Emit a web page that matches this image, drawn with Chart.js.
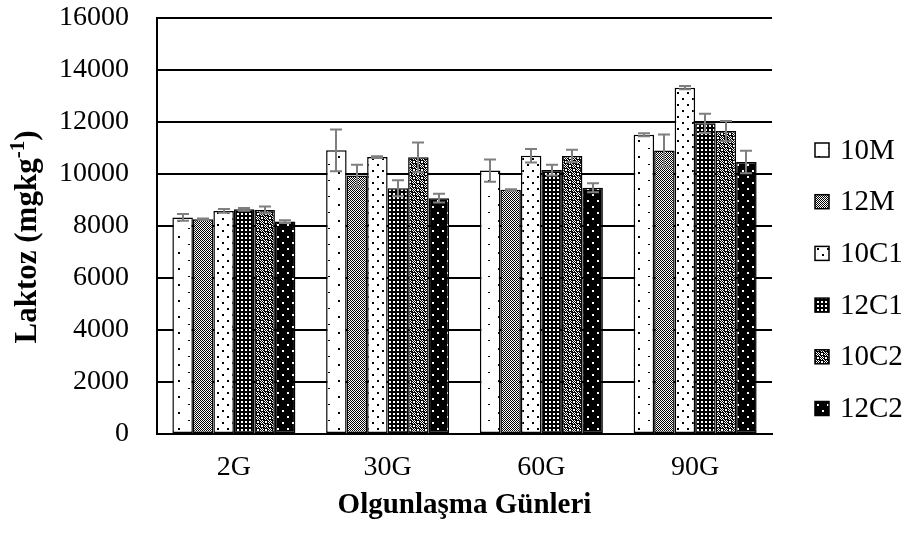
<!DOCTYPE html>
<html>
<head>
<meta charset="utf-8">
<script src="https://cdn.jsdelivr.net/npm/chart.js@4.4.1/dist/chart.umd.min.js"></script>
<style>
  html, body { margin: 0; padding: 0; background: #fff; }
  #wrap { width: 916px; height: 541px; }
</style>
</head>
<body>
<div id="wrap"><canvas id="chart" width="916" height="541"></canvas></div>
<script>
// Lactose content by ripening day, six cheese groups (mean ± error)
const categories = ['2G', '30G', '60G', '90G'];
const seriesNames = ['10M', '12M', '10C1', '12C1', '10C2', '12C2'];

const values10M  = [8330, 10910, 10130, 11510];
const values12M  = [8260,  9940,  9390, 10900];
const values10C1 = [8580, 10650, 10700, 13320];
const values12C1 = [8640,  9450, 10150, 11950];
const values10C2 = [8620, 10640, 10690, 11650];
const values12C2 = [8170,  9070,  9470, 10460];

const errors10M  = [130, 800, 430,  60];
const errors12M  = [ 30, 420,  20, 620];
const errors10C1 = [ 70,  30, 260,  60];
const errors12C1 = [ 50, 310, 210, 370];
const errors10C2 = [130, 570, 240, 390];
const errors12C2 = [ 50, 170, 170, 430];

const yTicks = [0, 2000, 4000, 6000, 8000, 10000, 12000, 14000, 16000];

const xTitle = 'Olgunlaşma Günleri';
const yTitleMain = 'Laktoz (mgkg';
const yTitleSup = '-1';
const yTitleEnd = ')';

const FONT = "'Liberation Serif', 'Times New Roman', serif";

// ---- fill patterns (small repeating tiles) ----
function tile(w, h, bg, fg, paint) {
  const c = document.createElement('canvas');
  c.width = w; c.height = h;
  const g = c.getContext('2d');
  g.fillStyle = bg; g.fillRect(0, 0, w, h);
  g.fillStyle = fg;
  paint(g, w, h);
  return g.createPattern(c, 'repeat');
}

const patterns = [
  // sparse dots on white
  tile(20, 16, '#fff', '#000', g => { g.fillRect(8, 4, 2, 1); g.fillRect(18, 12, 2, 2); }),
  // fine checker
  tile(2, 2, '#fff', '#000', g => { g.fillRect(0, 0, 1, 1); g.fillRect(1, 1, 1, 1); }),
  // medium dots on white
  tile(10, 12, '#fff', '#000', g => { g.fillRect(2, 2, 2, 2); g.fillRect(7, 8, 2, 2); }),
  // small white dots on black, tight grid
  tile(4, 4, '#000', '#fff', g => { g.fillRect(1, 1, 2, 2); }),
  // large checker: fine checker blocks alternating with dark blocks
  tile(8, 8, '#000', '#fff', g => {
    for (let y = 0; y < 8; y++) {
      for (let x = 0; x < 8; x++) {
        const blk = ((x >> 2) + (y >> 2)) % 2;
        if (blk === 0 && (x + y) % 2 === 0) g.fillRect(x, y, 1, 1);
      }
    }
    g.fillRect(5, 1, 2, 2);
    g.fillRect(1, 5, 2, 2);
  }),
  // white dots on black, staggered
  tile(10, 12, '#000', '#fff', g => { g.fillRect(2, 2, 2, 2); g.fillRect(7, 8, 2, 2); })
];

const seriesValues = [values10M, values12M, values10C1, values12C1, values10C2, values12C2];
const seriesErrors = [errors10M, errors12M, errors10C1, errors12C1, errors10C2, errors12C2];

const datasets = seriesNames.map((name, i) => ({
  label: name,
  data: seriesValues[i],
  errors: seriesErrors[i],
  backgroundColor: patterns[i],
  borderColor: '#000',
  borderWidth: 1.5,
  borderSkipped: false,
  categoryPercentage: 0.8,
  barPercentage: 1.0
}));

// ---- error bars drawn from the dataset values ----
const errorBars = {
  id: 'errorBars',
  afterDatasetsDraw(chart) {
    const ctx = chart.ctx;
    const ys = chart.scales.y;
    ctx.save();
    ctx.strokeStyle = '#7f7f7f';
    ctx.lineWidth = 2;
    chart.data.datasets.forEach((ds, i) => {
      chart.getDatasetMeta(i).data.forEach((bar, j) => {
        const v = ds.data[j], e = ds.errors[j];
        const top = ys.getPixelForValue(v + e);
        const bot = ys.getPixelForValue(v - e);
        const x = Math.round(bar.x);
        ctx.beginPath();
        ctx.moveTo(x, top); ctx.lineTo(x, bot);
        ctx.moveTo(x - 6, top); ctx.lineTo(x + 6, top);
        ctx.moveTo(x - 6, bot); ctx.lineTo(x + 6, bot);
        ctx.stroke();
      });
    });
    ctx.restore();
  }
};

// ---- right-hand legend with pattern swatches ----
const sideLegend = {
  id: 'sideLegend',
  afterDraw(chart) {
    const ctx = chart.ctx;
    ctx.save();
    ctx.font = '29px ' + FONT;
    ctx.textBaseline = 'middle';
    ctx.textAlign = 'left';
    chart.data.datasets.forEach((ds, i) => {
      const cy = 150 + i * 51.7;
      ctx.fillStyle = ds.backgroundColor;
      ctx.fillRect(815, cy - 7, 14, 14);
      ctx.strokeStyle = '#000';
      ctx.lineWidth = 1.5;
      ctx.strokeRect(815, cy - 7, 14, 14);
      ctx.fillStyle = '#000';
      ctx.fillText(ds.label, 840, cy + 1);
    });
    ctx.restore();
  }
};

// ---- vertical axis title with superscript ----
const yTitle = {
  id: 'yTitle',
  afterDraw(chart) {
    const ctx = chart.ctx;
    const main = 'bold 31px ' + FONT;
    const sup = 'bold 21px ' + FONT;
    ctx.save();
    ctx.font = main;
    const w1 = ctx.measureText(yTitleMain).width;
    const w3 = ctx.measureText(yTitleEnd).width;
    ctx.font = sup;
    const w2 = ctx.measureText(yTitleSup).width;
    const total = w1 + w2 + w3;
    ctx.translate(36, 237);
    ctx.rotate(-Math.PI / 2);
    ctx.fillStyle = '#000';
    ctx.textBaseline = 'alphabetic';
    ctx.textAlign = 'left';
    let x = -total / 2;
    ctx.font = main;
    ctx.fillText(yTitleMain, x, 0);
    x += w1;
    ctx.font = sup;
    ctx.fillText(yTitleSup, x, -12);
    x += w2;
    ctx.font = main;
    ctx.fillText(yTitleEnd, x, 0);
    ctx.restore();
  }
};

new Chart(document.getElementById('chart'), {
  type: 'bar',
  data: { labels: categories, datasets },
  plugins: [errorBars, sideLegend, yTitle],
  options: {
    responsive: false,
    animation: false,
    events: [],
    layout: { padding: { left: 0, right: 144, top: 18, bottom: 0 } },
    plugins: {
      legend: { display: false },
      tooltip: { enabled: false },
      title: { display: false }
    },
    scales: {
      x: {
        grid: { display: false, drawTicks: false },
        border: { display: true, color: '#000', width: 2 },
        ticks: { color: '#000', font: { family: FONT, size: 28 }, padding: 17 },
        title: {
          display: true, text: xTitle, color: '#000',
          font: { family: FONT, size: 29, weight: 'bold' },
          padding: { top: 0, bottom: 18 }
        },
        afterFit(scale) {
          scale.height = 107;
          scale.paddingLeft = 0;
          scale.paddingRight = 0;
        }
      },
      y: {
        min: 0, max: 16000,
        afterBuildTicks(scale) { scale.ticks = yTicks.map(v => ({ value: v })); },
        grid: { color: '#000', lineWidth: 2, drawTicks: false },
        border: { display: true, color: '#000', width: 2 },
        ticks: {
          color: '#000', font: { family: FONT, size: 28 }, padding: 28,
          callback: v => String(v)
        },
        afterFit(scale) {
          scale.width = 157;
          scale.paddingTop = 0;
          scale.paddingBottom = 0;
        }
      }
    }
  }
});
</script>
</body>
</html>
